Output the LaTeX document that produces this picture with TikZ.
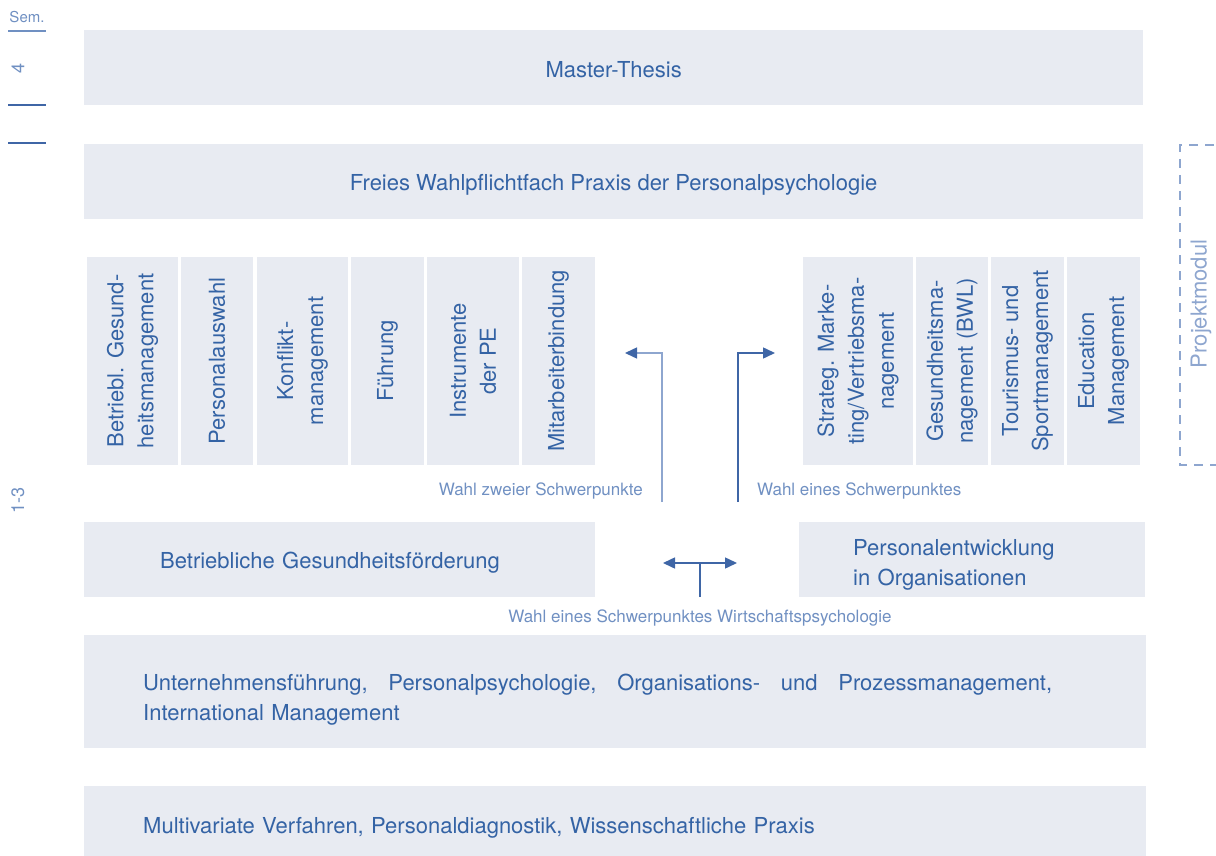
\documentclass[tikz,border=0pt]{standalone}
\usepackage{fontspec}
\setmainfont{TeX Gyre Heros}
\usetikzlibrary{arrows.meta}
\definecolor{boxfill}{HTML}{E8EBF2}
\definecolor{textblue}{HTML}{3463A5}
\definecolor{lineblue}{HTML}{3F66A6}
\definecolor{paleblue}{HTML}{8EA6CF}
\definecolor{labelblue}{HTML}{7090C2}

\begin{document}
\begin{tikzpicture}[x=1pt,y=-1pt,
  bar/.style={fill=boxfill,text=textblue,font=\fontsize{22}{30}\selectfont,
    inner sep=0pt,anchor=north west,text height=17pt,text depth=0pt},
  col/.style={fill=boxfill,text=textblue,font=\fontsize{22}{30}\selectfont,
    rotate=90,align=center,inner sep=0pt,minimum width=208},
  hint/.style={text=labelblue,font=\fontsize{17}{20}\selectfont,inner sep=0pt},
  semtxt/.style={text=labelblue,font=\fontsize{15}{18}\selectfont,inner sep=0pt},
  tip/.style={-{Triangle[length=12pt,width=11pt,color=lineblue]}}]
\useasboundingbox (0,0) rectangle (1216,856);
% Semester column
\node[semtxt] (sem) at (27,17) {Sem.};
\draw[labelblue,line width=1.2] (8,31) -- (46,31);
\node[semtxt,font=\fontsize{18}{20}\selectfont,rotate=90] (s4) at (18,68) {4};
\draw[lineblue,line width=1.2] (8,105) -- (46,105);
\draw[lineblue,line width=1.2] (8,143) -- (46,143);
\node[semtxt,font=\fontsize{18}{20}\selectfont,rotate=90] (s13) at (18,500) {1-3};
% Upper bars
\node[bar,minimum width=1059,minimum height=75,text height=19pt] (thesis) at (84,30) {Master-Thesis};
\node[bar,minimum width=1059,minimum height=75] (wahl) at (84,144) {Freies Wahlpflichtfach Praxis der Personalpsychologie};
% Left focus columns
\node[col,minimum height=91] (bgm) at (132.5,361) {Betriebl. Gesund-\\heitsmanagement};
\node[col,minimum height=72] (pa) at (217,361) {Personalauswahl};
\node[col,minimum height=91] (km) at (302.5,361) {Konflikt-\\management};
\node[col,minimum height=73] (fu) at (387.5,361) {Führung};
\node[col,minimum height=92] (pe) at (473,361) {Instrumente\\der PE};
\node[col,minimum height=73] (mb) at (558.5,361) {Mitarbeiterbindung};
% Right focus columns
\node[col,minimum height=110] (mv) at (858,361) {Strateg. Marke-\\ting/Vertriebsma-\\nagement};
\node[col,minimum height=72] (gm) at (952,361) {Gesundheitsma-\\nagement (BWL)};
\node[col,minimum height=73] (ts) at (1027.5,361) {Tourismus- und\\Sportmanagement};
\node[col,minimum height=73] (em) at (1103.5,361) {Education\\Management};
% Choice arrows
\coordinate (lfoot) at (662,502);
\coordinate (lend) at (625,353);
\coordinate (rfoot) at (738,502);
\coordinate (rend) at (775,353);
\draw[paleblue,line width=1.5,tip] (lfoot) |- (lend);
\draw[lineblue,line width=1.5,tip] (rfoot) |- (rend);
\node[hint,anchor=east] (zwei) at (643,491) {Wahl zweier Schwerpunkte};
\node[hint,anchor=west] (eins) at (757,491) {Wahl eines Schwerpunktes};
% Middle bars
\node[bar,minimum width=511,minimum height=75,inner xsep=76,text width=359,align=left] (bgf) at (84,522) {Betriebliche Gesundheitsförderung};
\node[bar,minimum width=346,minimum height=75,inner xsep=54,text width=238,align=left,text height=25.6pt,text depth=34.6pt] (peo) at (799,522) {Personalentwicklung\\in Organisationen};
\coordinate (tleft) at (663,563);
\coordinate (tright) at (737,563);
\coordinate (tfoot) at (700,597);
\coordinate (tmid) at (700,563);
\draw[lineblue,line width=1.5,tip] (tmid) -- (tleft);
\draw[lineblue,line width=1.5,tip] (tmid) -- (tright);
\draw[lineblue,line width=1.5] (tfoot) -- (tmid);
\node[hint] (wipsy) at (700,618) {Wahl eines Schwerpunktes Wirtschaftspsychologie};
% Lower bars
\node[bar,minimum width=1062,minimum height=113,inner xsep=59,text width=944,align=left,text height=31.6pt,text depth=34.6pt] (core) at (84,635)
  {\hbox to 909pt{Unternehmensführung,\hfill Personalpsychologie,\hfill Organisations-\hfill und\hfill Prozessmanagement,}\\International Management};
\node[bar,minimum width=1062,minimum height=70,inner xsep=59,text width=944,align=left,text height=25pt] (base) at (84,786) {Multivariate Verfahren, Personaldiagnostik, Wissenschaftliche Praxis};
% Project module
\draw[paleblue,line width=1.2,dash pattern=on 9pt off 7pt] (1230,145) -- (1180,145) -- (1180,465) -- (1230,465);
\node[semtxt,text=paleblue,font=\fontsize{22}{24}\selectfont,rotate=90] (proj) at (1201,304) {Projektmodul};
\end{tikzpicture}
\end{document}
